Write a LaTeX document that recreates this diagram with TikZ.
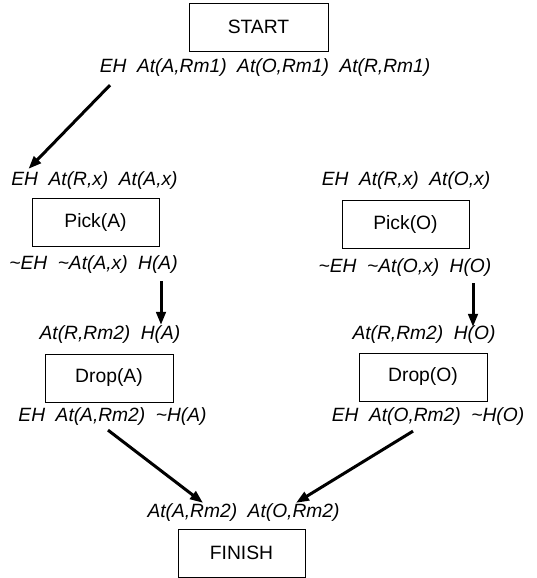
\documentclass[tikz,border=0pt]{standalone}
\usepackage{fontspec}
\setmainfont{Liberation Sans}
\usetikzlibrary{arrows.meta}
\newcommand\gp{\hspace{0.55em}}
\newcommand\nt{\textasciitilde}
\begin{document}
\begin{tikzpicture}[x=1pt,y=-1pt,
  box/.style={draw,line width=0.9pt,minimum width=127pt,minimum height=48pt,inner sep=0pt,
    font=\fontsize{19.3}{21}\selectfont},
  cond/.style={inner sep=0pt,font=\fontsize{19.2}{21}\selectfont\itshape},
  arr/.style={line width=3pt,-{Triangle[length=13pt,width=9.5pt]}}]
\useasboundingbox (0,0) rectangle (536,578);

% steps of the plan
\node[box,minimum width=139pt] (start) at (258.5,27) {START};
\node[box] (pickA) at (95.5,222.5) {Pick(A)};
\node[box] (pickO) at (405.5,224.5) {Pick(O)};
\node[box,minimum width=128pt] (dropA) at (109,378) {Drop(A)};
\node[box,minimum width=128pt] (dropO) at (423,377) {Drop(O)};
\node[box] (finish) at (241.5,553) {FINISH};

% preconditions and effects
\node[cond] (s0) at (265,68) {EH\gp At(A,Rm1)\gp At(O,Rm1)\gp At(R,Rm1)};
\node[cond] (pa0) at (94.5,181) {EH\gp At(R,x)\gp At(A,x)};
\node[cond] (po0) at (406,181) {EH\gp At(R,x)\gp At(O,x)};
\node[cond] (pa1) at (93.5,265) {\nt EH\gp\nt At(A,x)\gp H(A)};
\node[cond] (po1) at (405,268) {\nt EH\gp\nt At(O,x)\gp H(O)};
\node[cond] (da0) at (110,335) {At(R,Rm2)\gp H(A)};
\node[cond] (do0) at (424,335) {At(R,Rm2)\gp H(O)};
\node[cond] (da1) at (112.5,417) {EH\gp At(A,Rm2)\gp\nt H(A)};
\node[cond] (do1) at (428,417) {EH\gp At(O,Rm2)\gp\nt H(O)};
\node[cond] (f0) at (243.5,513) {At(A,Rm2)\gp At(O,Rm2)};

% causal links
\draw[arr] ([xshift=-155pt,yshift=-8pt]s0.south) -- ([xshift=-66pt,yshift=3pt]pa0.north);
\draw[arr] ([xshift=67.5pt,yshift=-7pt]pa1.south) -- ([xshift=51pt,yshift=1pt]da0.north);
\draw[arr] ([xshift=68pt,yshift=-6pt]po1.south) -- ([xshift=49pt,yshift=-1pt]do0.north);
\draw[arr] ([xshift=-4.5pt,yshift=-4pt]da1.south) -- ([xshift=-40.5pt,yshift=1pt]f0.north);
\draw[arr] ([xshift=-15pt,yshift=-5pt]do1.south) -- ([xshift=52.5pt,yshift=1pt]f0.north);
\end{tikzpicture}
\end{document}
